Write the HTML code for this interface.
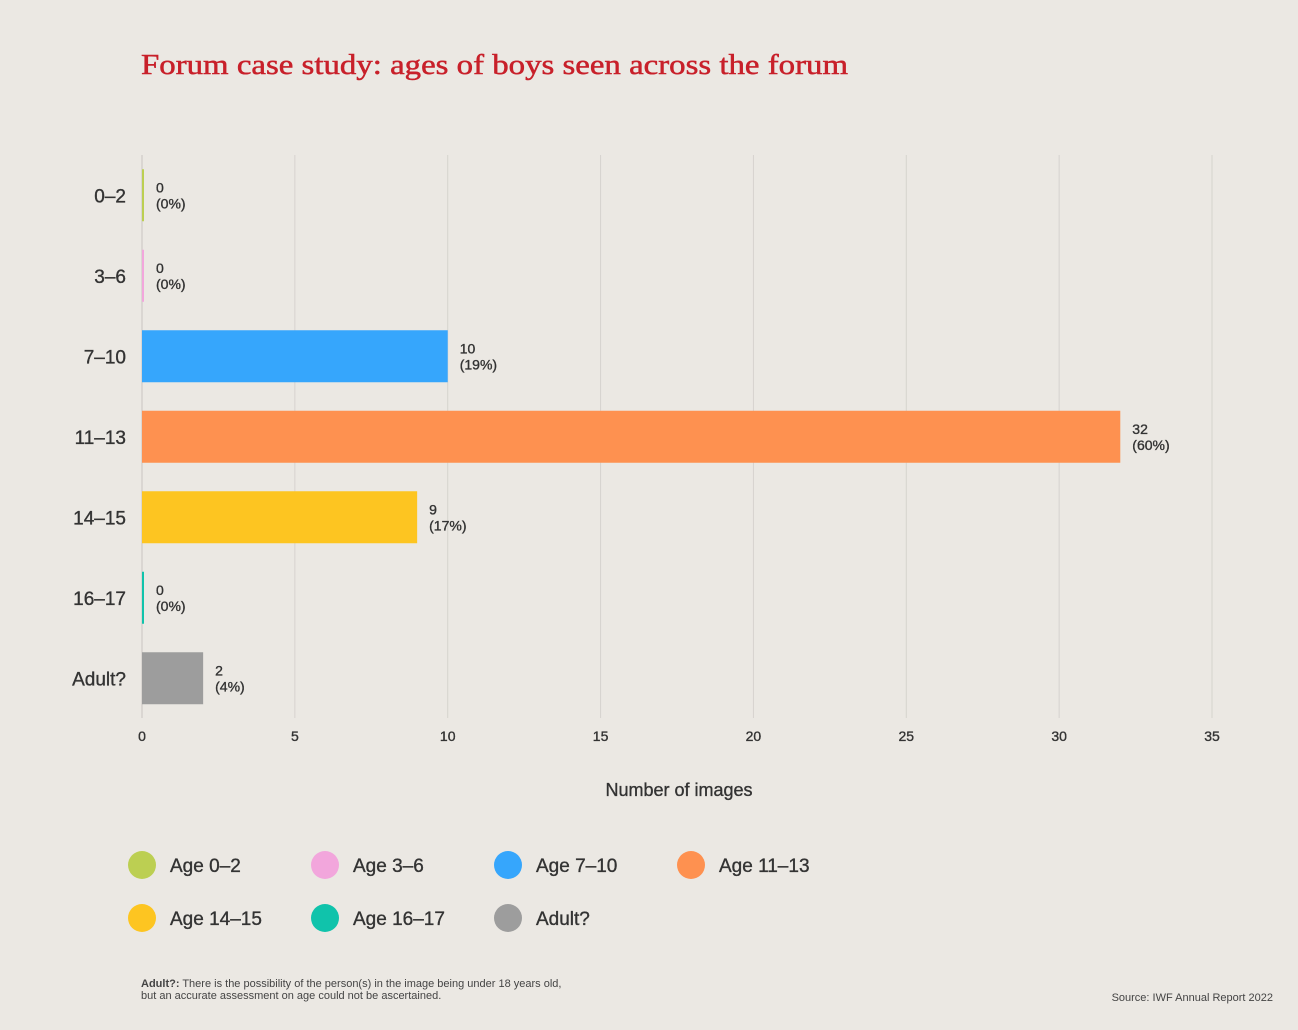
<!DOCTYPE html>
<html><head><meta charset="utf-8">
<style>
html,body{margin:0;padding:0;background:#ebe8e3;}
body{width:1298px;height:1025px;overflow:hidden;font-family:"Liberation Sans",sans-serif;}
.m{stroke:#333;stroke-width:0.35;}
</style></head>
<body>
<svg width="1298" height="1025" xmlns="http://www.w3.org/2000/svg">
<rect width="1298" height="1025" fill="#ebe8e3"/>
<text x="141" y="74" font-family="Liberation Serif, serif" font-size="29" fill="#c8202a" stroke="#c8202a" stroke-width="0.5" textLength="707" lengthAdjust="spacingAndGlyphs">Forum case study: ages of boys seen across the forum</text>
<g id="grid"></g>
<g id="bars"></g>
<g id="legend"></g>
<text x="679" y="796" text-anchor="middle" font-size="18" fill="#333" class="m">Number of images</text>
<text x="141" y="987" font-size="11" fill="#444"><tspan font-weight="bold">Adult?:</tspan> There is the possibility of the person(s) in the image being under 18 years old,</text>
<text x="141" y="999" font-size="11" fill="#444">but an accurate assessment on age could not be ascertained.</text>
<text x="1273" y="1001" text-anchor="end" font-size="11" fill="#444">Source: IWF Annual Report 2022</text>
</svg>
<script>
const categories = ["0–2","3–6","7–10","11–13","14–15","16–17","Adult?"];
const values = [0,0,10,32,9,0,2];
const percents = ["0%","0%","19%","60%","17%","0%","4%"];
const colors = ["#bccf52","#f2a6dc","#36a6fc","#fe9150","#fdc521","#10c3ab","#9d9d9d"];
const legendLabels = ["Age 0–2","Age 3–6","Age 7–10","Age 11–13","Age 14–15","Age 16–17","Adult?"];
const xTicks = [0,5,10,15,20,25,30,35];

const NS="http://www.w3.org/2000/svg";
const x0=142, xMax=35, pxW=1212-142;
const xs=v=>x0+v/xMax*pxW;
const rowTop=155, rowH=80.5, barH=52;
const yc=i=>rowTop+rowH*(i+0.5);
function mk(tag,attrs,parent){const e=document.createElementNS(NS,tag);for(const k in attrs)e.setAttribute(k,attrs[k]);parent.appendChild(e);return e;}
const grid=document.getElementById('grid'), bars=document.getElementById('bars'), leg=document.getElementById('legend');
xTicks.forEach(t=>{
  const l=mk('line',{x1:xs(t),x2:xs(t),y1:155,y2:718,stroke:t===0?'#c8c5c0':'#d6d3ce','stroke-width':1},grid);
  
  
  const tx=mk('text',{x:xs(t),y:741,'text-anchor':'middle','font-size':14,fill:'#333',class:'m'},grid);
  tx.textContent=t;
  
  
});
categories.forEach((c,i)=>{
  const y=yc(i);
  const lab=mk('text',{x:126,y:y+7,'text-anchor':'end','font-size':19,fill:'#333',class:'m'},bars);
  lab.textContent=c;
  
  
  const w=Math.max(xs(values[i])-x0,2);
  const r=mk('rect',{x:x0,y:y-barH/2,width:w,height:barH,fill:colors[i]},bars);
  
  
  const vx=x0+w+12;
  const t1=mk('text',{x:vx,y:y-3,'font-size':14,fill:'#333',class:'m'},bars);
  t1.textContent=values[i];
  
  
  const t2=mk('text',{x:vx,y:y+13,'font-size':14,fill:'#333',class:'m'},bars);
  t2.textContent='('+percents[i]+')';
  
  
});
legendLabels.forEach((l,i)=>{
  const col=i%4,row=Math.floor(i/4);
  const cx=142+col*183, cy=865+row*53;
  const c=mk('circle',{cx:cx,cy:cy,r:14,fill:colors[i]},leg);
  
  
  const t=mk('text',{x:cx+28,y:cy+7,'font-size':19,fill:'#333',class:'m'},leg);
  t.textContent=l;
  
  
});
</script>
</body></html>
